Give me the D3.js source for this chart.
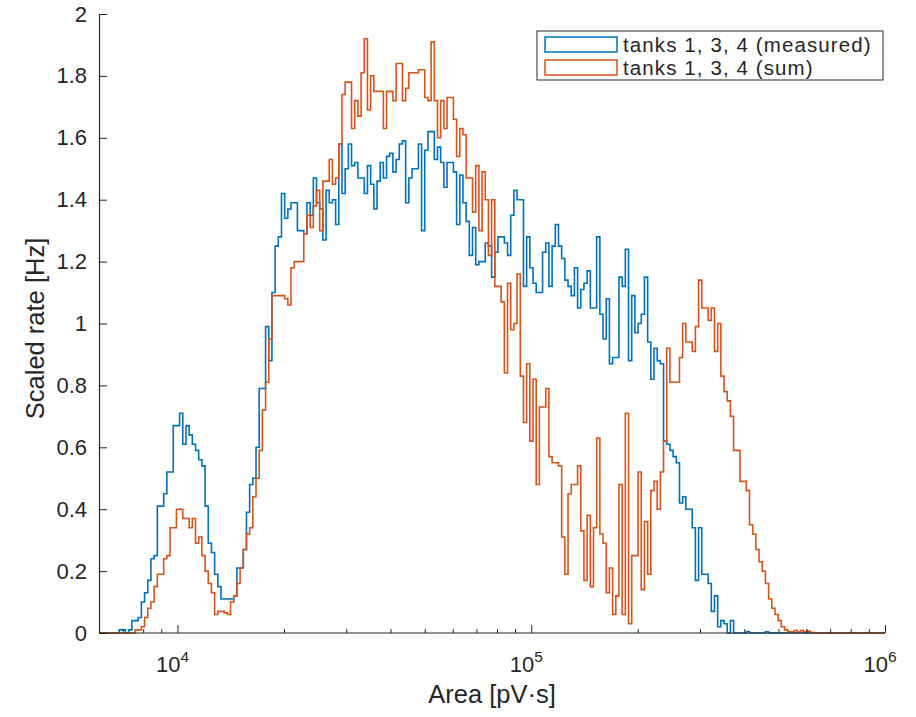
<!DOCTYPE html>
<html>
<head>
<meta charset="utf-8">
<script src="https://cdn.jsdelivr.net/npm/d3@7"></script>
<style>
  html, body { margin: 0; padding: 0; background: #ffffff; }
  svg { display: block; }
  text { font-family: "Liberation Sans", Arial, Helvetica, sans-serif; fill: #262626; }
</style>
</head>
<body>
<svg id="chart" width="916" height="717"></svg>
<script>
// ---------------- data ----------------
// histogram bins: log-spaced, first edge at 10^binStartLog, width binStepLog (decades)
const binStartLog = 3.835;
const binStepLog = 0.009;

const seriesNames = ["tanks 1, 3, 4 (measured)", "tanks 1, 3, 4 (sum)"];
const seriesColors = ["#0072BD", "#D95319"];

const measuredRate = [
  0.01,0.01,0,0.01,0.04,0.04,0.05,0.10,0.13,0.17,
  0.24,0.25,0.41,0.41,0.45,0.52,0.52,0.67,0.67,0.71,
  0.61,0.67,0.64,0.61,0.59,0.56,0.54,0.41,0.29,0.26,
  0.19,0.15,0.11,0.11,0.11,0.11,0.12,0.21,0.21,0.27,
  0.39,0.48,0.50,0.60,0.79,0.79,0.99,0.88,1.10,1.25,
  1.28,1.42,1.34,1.37,1.39,1.39,1.30,1.30,1.29,1.39,
  1.35,1.47,1.39,1.37,1.27,1.43,1.39,1.40,1.32,1.58,
  1.42,1.50,1.58,1.51,1.52,1.47,1.47,1.42,1.51,1.45,
  1.37,1.46,1.52,1.47,1.54,1.55,1.49,1.53,1.58,1.59,
  1.39,1.47,1.50,1.50,1.58,1.30,1.56,1.62,1.62,1.53,
  1.57,1.52,1.44,1.52,1.52,1.49,1.32,1.48,1.39,1.33,
  1.22,1.31,1.19,1.20,1.20,1.26,1.25,1.15,1.23,1.28,
  1.28,1.26,1.22,1.35,1.43,1.40,1.40,1.12,1.28,1.18,
  1.13,1.10,1.10,1.23,1.26,1.12,1.25,1.32,1.25,1.21,
  1.14,1.12,1.09,1.18,1.05,1.11,1.13,1.17,1.05,1.05,
  1.28,1.03,0.95,1.08,0.87,0.89,0.89,1.15,1.12,1.24,
  0.88,1.09,0.97,1.00,1.03,1.15,0.94,0.82,0.92,0.88,
  0.87,0.62,0.61,0.59,0.57,0.55,0.42,0.44,0.40,0.40,
  0.34,0.17,0.34,0.19,0.19,0.16,0.07,0.12,0.02,0.04,
  0.03,0,0.04,0,0,0,0,0.005,0,0,
  0,0,0,0.004,0,0,0,0,0,0,
  0,0,0,0,0,0,0,0,0,0
];

const sumRate = [
  0,0,0,0,0,0.01,0.01,0.02,0.05,0.08,
  0.10,0.15,0.19,0.19,0.24,0.25,0.34,0.34,0.40,0.40,
  0.37,0.37,0.34,0.37,0.29,0.31,0.25,0.20,0.16,0.13,
  0.06,0.07,0.07,0.065,0.06,0.10,0.12,0.16,0.21,0.27,
  0.32,0.34,0.44,0.50,0.59,0.72,0.81,0.95,1.09,1.09,
  1.09,1.09,1.08,1.06,1.18,1.20,1.20,1.20,1.29,1.35,
  1.31,1.38,1.43,1.30,1.46,1.46,1.53,1.45,1.47,1.58,
  1.74,1.78,1.78,1.63,1.72,1.67,1.81,1.92,1.69,1.80,
  1.75,1.75,1.75,1.63,1.75,1.75,1.72,1.84,1.84,1.72,
  1.76,1.81,1.81,1.81,1.82,1.82,1.73,1.72,1.91,1.72,
  1.60,1.72,1.63,1.73,1.73,1.66,1.54,1.63,1.61,1.47,
  1.47,1.36,1.51,1.30,1.49,1.40,1.22,1.40,1.12,1.12,
  1.07,0.84,1.13,0.98,1.00,1.16,0.83,0.68,0.87,0.62,
  0.82,0.48,0.73,0.73,0.79,0.57,0.55,0.55,0.54,0.31,
  0.19,0.45,0.48,0.48,0.54,0.33,0.17,0.38,0.15,0.34,
  0.63,0.32,0.29,0.13,0.21,0.06,0.12,0.48,0.06,0.71,
  0.03,0.25,0.25,0.52,0.14,0.36,0.19,0.46,0.49,0.40,
  0.52,0.62,0.92,0.81,0.81,0.81,0.89,1.00,0.94,0.94,
  0.91,0.99,1.14,1.05,1.05,1.01,1.05,0.91,1.00,0.83,
  0.78,0.75,0.70,0.59,0.59,0.49,0.49,0.46,0.35,0.32,
  0.27,0.23,0.20,0.16,0.11,0.08,0.06,0.04,0.02,0.01,
  0.005,0.003,0.008,0.003,0.008,0.004,0.006,0.002,0,0
];

const xDomain = [6000, 1e6];
const yDomain = [0, 2];
const yTickValues = [0, 0.2, 0.4, 0.6, 0.8, 1, 1.2, 1.4, 1.6, 1.8, 2];
const yTickLabels = ["0", "0.2", "0.4", "0.6", "0.8", "1", "1.2", "1.4", "1.6", "1.8", "2"];
const xMajorTicks = [1e4, 1e5, 1e6];
const xMajorExponents = ["4", "5", "6"];
const xLabel = "Area [pV\u00B7s]";
const yLabel = "Scaled rate [Hz]";

// ---------------- layout ----------------
const plot = { left: 99, right: 885, top: 14, bottom: 633 };
const axisColor = "#262626";
const tickFont = 22, labelFont = 25.5, legendFont = 20.5;

const svg = d3.select("#chart");
const x = d3.scaleLog().domain(xDomain).range([plot.left, plot.right]);
const y = d3.scaleLinear().domain(yDomain).range([plot.bottom, plot.top]);

svg.append("clipPath").attr("id", "clip")
  .append("rect")
  .attr("x", plot.left).attr("y", plot.top - 2)
  .attr("width", plot.right - plot.left).attr("height", plot.bottom - plot.top + 4);

function stairPoints(vals) {
  const pts = [[xDomain[0], 0]];
  vals.forEach((v, i) => pts.push([Math.pow(10, binStartLog + i * binStepLog), v]));
  pts.push([Math.pow(10, binStartLog + vals.length * binStepLog), 0]);
  pts.push([xDomain[1], 0]);
  return pts;
}
const line = d3.line().x(d => x(d[0])).y(d => y(d[1])).curve(d3.curveStepAfter);

const g = svg.append("g").attr("clip-path", "url(#clip)");
[measuredRate, sumRate].forEach((vals, k) => {
  g.append("path")
    .attr("d", line(stairPoints(vals)))
    .attr("fill", "none")
    .attr("stroke", seriesColors[k])
    .attr("stroke-width", 1.6);
});

// ---------------- axes ----------------
const yAxis = d3.axisLeft(y).tickValues(yTickValues)
  .tickFormat((d, i) => yTickLabels[i]).tickSizeInner(-8).tickSizeOuter(0).tickPadding(12);
const gy = svg.append("g").attr("transform", `translate(${plot.left},0)`).call(yAxis);
gy.select(".domain").attr("stroke", axisColor).attr("stroke-width", 1.2);
gy.selectAll(".tick line").attr("stroke", axisColor).attr("stroke-width", 1);
gy.selectAll(".tick text").attr("font-size", tickFont).attr("fill", axisColor)
  .attr("font-family", "'Liberation Sans', Arial, sans-serif");

const gx = svg.append("g").attr("transform", `translate(0,${plot.bottom})`);
gx.append("line").attr("x1", plot.left).attr("x2", plot.right)
  .attr("y1", 0).attr("y2", 0).attr("stroke", axisColor).attr("stroke-width", 1.2);
const minorTicks = x.ticks().filter(t => xMajorTicks.indexOf(t) < 0 && t >= xDomain[0] && t <= xDomain[1]);
const xMinorAxis = d3.axisBottom(x).tickValues(minorTicks).tickFormat("").tickSizeInner(-4).tickSizeOuter(0);
const gxm = svg.append("g").attr("transform", `translate(0,${plot.bottom})`).call(xMinorAxis);
gxm.select(".domain").remove();
gxm.selectAll(".tick line").attr("stroke", axisColor);
const xMajorAxis = d3.axisBottom(x).tickValues(xMajorTicks).tickFormat("").tickSizeInner(-8).tickSizeOuter(0);
const gxM = svg.append("g").attr("transform", `translate(0,${plot.bottom})`).call(xMajorAxis);
gxM.select(".domain").remove();
gxM.selectAll(".tick line").attr("stroke", axisColor);

xMajorTicks.forEach((t, i) => {
  const tx = svg.append("text")
    .attr("x", x(t) - 5).attr("y", plot.bottom + 39)
    .attr("text-anchor", "middle").attr("font-size", tickFont);
  tx.append("tspan").text("10");
  tx.append("tspan").attr("dy", -10).attr("font-size", 15.5).text(xMajorExponents[i]);
});

svg.append("text")
  .attr("x", (plot.left + plot.right) / 2).attr("y", 703)
  .attr("text-anchor", "middle").attr("font-size", labelFont).text(xLabel);
svg.append("text")
  .attr("transform", `translate(44,${(plot.top + plot.bottom) / 2 + 5}) rotate(-90)`)
  .attr("text-anchor", "middle").attr("font-size", labelFont).text(yLabel);

// ---------------- legend ----------------
const lg = svg.append("g");
lg.append("rect").attr("x", 537).attr("y", 31).attr("width", 346).attr("height", 49)
  .attr("fill", "#ffffff").attr("stroke", axisColor).attr("stroke-width", 1);
seriesNames.forEach((name, k) => {
  const yy = 37 + k * 23;
  lg.append("rect").attr("x", 545).attr("y", yy).attr("width", 72).attr("height", 15)
    .attr("fill", "#ffffff").attr("stroke", seriesColors[k]).attr("stroke-width", 1.5);
  lg.append("text").attr("x", 623).attr("y", yy + 15).attr("font-size", legendFont)
    .attr("letter-spacing", 1.1).text(name);
});
</script>
</body>
</html>
